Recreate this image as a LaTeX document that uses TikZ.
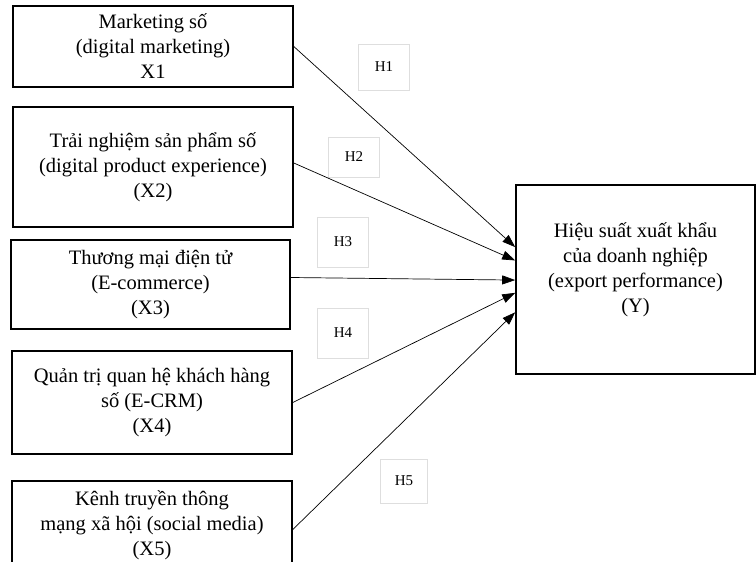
\documentclass[tikz,border=0pt]{standalone}
\usepackage{fontspec}
\setmainfont{Liberation Serif}
\usetikzlibrary{arrows.meta,calc}
\definecolor{hypline}{RGB}{222,222,222}

\begin{document}
\begin{tikzpicture}[x=1pt, y=-1pt, >={Triangle[length=13pt,width=9pt]}]
        \useasboundingbox (0,0) rectangle (756,562);

        % Factors (left column)
        \tikzset{factor/.style={rectangle, draw=black, line width=1.6pt, fill=white, align=center, inner sep=2pt, font=\fontsize{20.5}{25}\selectfont}}
        \node[factor, minimum width=280pt, minimum height=81pt] (X1) at (153,46.5) {Marketing số\\(digital marketing)\\X1};
        \node[factor, minimum width=280pt, minimum height=120pt] (X2) at (153,167) {Trải nghiệm sản phẩm số\\(digital product experience)\\(X2)};
        \node[factor, minimum width=279pt, minimum height=89pt] (X3) at (150.5,284.5) {Thương mại điện tử\\(E-commerce)\\(X3)};
        \node[factor, minimum width=280pt, minimum height=103pt] (X4) at (152,402.5) {Quản trị quan hệ khách hàng\\số (E-CRM)\\(X4)};
        \node[factor, minimum width=280pt, minimum height=89pt] (X5) at (152,525.5) {Kênh truyền thông\\mạng xã hội (social media)\\(X5)};

        % Outcome (right)
        \node[factor, minimum width=239pt, minimum height=189pt] (Y) at (635.5,279.5) {};
        \node[align=center, font=\fontsize{20.5}{25}\selectfont] (Ytext) at (635.5,270) {Hiệu suất xuất khẩu\\của doanh nghiệp\\(export performance)\\(Y)};

        % Hypotheses
        \tikzset{hyp/.style={rectangle, draw=hypline, fill=white, inner sep=1pt, minimum width=51pt, minimum height=46pt, font=\fontsize{15}{15}\selectfont}}
        \node[hyp] (H1) at (384,67) {H1};
        \node[hyp, minimum height=40pt] (H2) at (354,157) {H2};
        \node[hyp, minimum height=50pt] (H3) at (343,242) {H3};
        \node[hyp, minimum height=50pt] (H4) at (343,333) {H4};
        \node[hyp, minimum width=47pt, minimum height=44pt] (H5) at (404,481) {H5};

        % Connections
        \foreach \u/\sh/\pos in {X1/0/0.33, X2/4/0.40, X3/7/0.503, X4/0/0.57, X5/-4/0.672} {
            \draw[black, line width=0.7pt, ->] ([yshift=\sh pt]\u.east) -- ($(Y.north west)!\pos!(Y.south west)$);
        }

    \end{tikzpicture}
\end{document}
